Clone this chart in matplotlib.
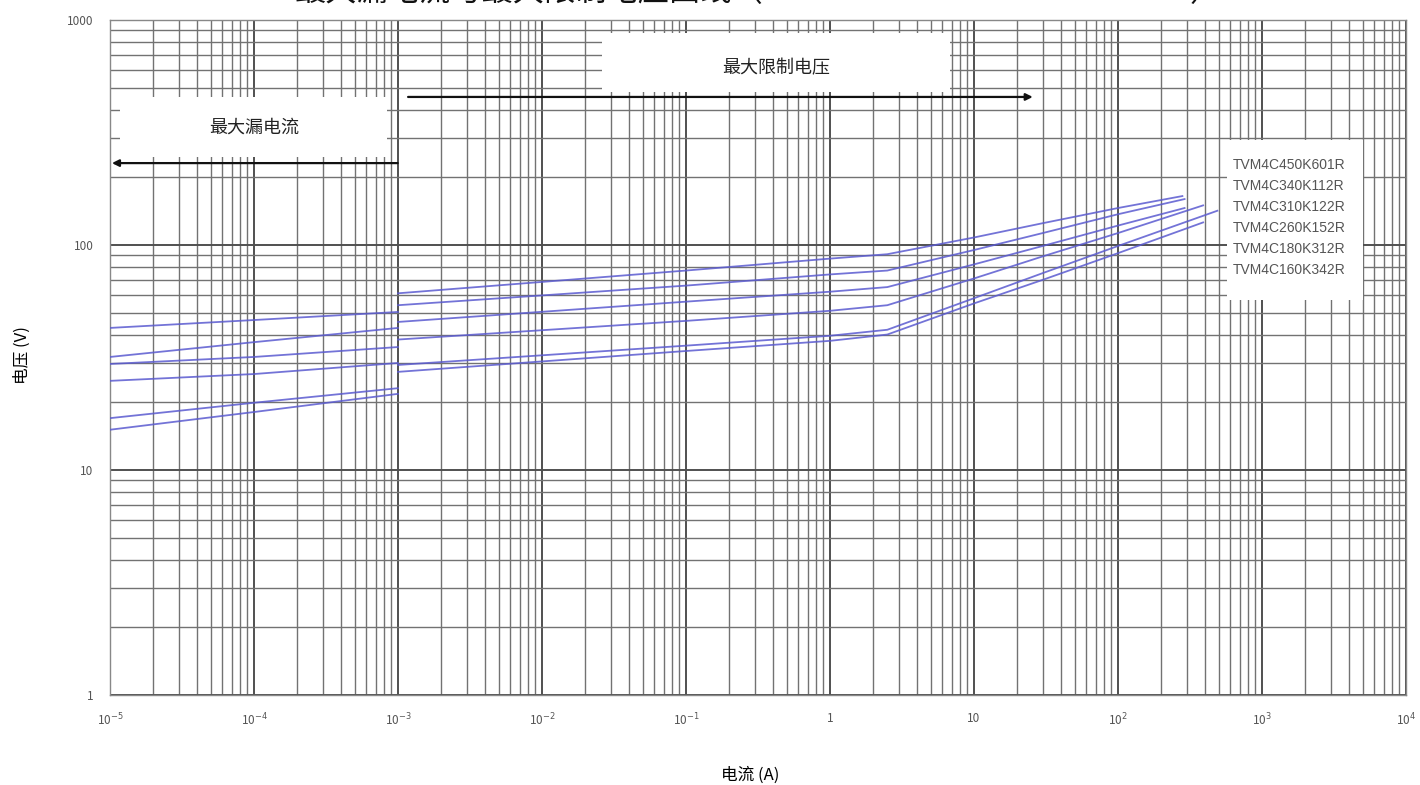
import numpy as np
import matplotlib
matplotlib.use('Agg')
import matplotlib.pyplot as plt
from matplotlib.lines import Line2D
from matplotlib.patches import Rectangle
from matplotlib.ticker import LogLocator, NullFormatter

plt.rcParams['font.family'] = ['Noto Sans CJK SC', 'DejaVu Sans']

# series names (legend order)
models = ['TVM4C450K601R', 'TVM4C340K112R', 'TVM4C310K122R',
          'TVM4C260K152R', 'TVM4C180K312R', 'TVM4C160K342R']

# leakage region, 1e-5 .. 1e-3 A
leak_current = [1e-5, 1e-4, 1e-3]
leak_450 = [42.8, 46.4, 50.4]
leak_340 = [31.8, 37.0, 42.8]
leak_310 = [29.6, 31.8, 35.2]
leak_260 = [24.9, 26.7, 29.9]
leak_180 = [17.0, 19.9, 23.1]
leak_160 = [15.1, 18.1, 21.8]

# clamping region, 1e-3 A upwards
clamp_450_i = [1e-3, 1e-1, 1, 2.5, 10, 30, 100, 280]
clamp_450_v = [61, 77, 87, 91, 108, 125, 146, 165]
clamp_340_i = [1e-3, 1e-1, 1, 2.5, 10, 30, 100, 290]
clamp_340_v = [54, 66, 74, 77, 95, 113, 137, 160]
clamp_310_i = [1e-3, 1e-1, 1, 2.5, 10, 30, 100, 290]
clamp_310_v = [45.5, 56, 62, 65, 82, 99, 122, 146]
clamp_260_i = [1e-3, 1e-1, 1, 2.5, 10, 30, 100, 390]
clamp_260_v = [38, 46, 51, 54, 71, 89, 113, 150]
clamp_180_i = [1e-3, 1e-1, 1, 2.5, 10, 30, 100, 490]
clamp_180_v = [29.3, 35.7, 39.5, 42, 58, 75, 99, 142]
clamp_160_i = [1e-3, 1e-1, 1, 2.5, 10, 30, 100, 390]
clamp_160_v = [27.3, 33.8, 37.5, 40, 55, 70, 92, 126]

x_ticks = [1e-5, 1e-4, 1e-3, 1e-2, 1e-1, 1, 10, 1e2, 1e3, 1e4]
x_ticklabels = ['10$^{-5}$', '10$^{-4}$', '10$^{-3}$', '10$^{-2}$', '10$^{-1}$',
                '1', '10', '10$^{2}$', '10$^{3}$', '10$^{4}$']
y_ticks = [1, 10, 100, 1000]
y_ticklabels = ['1', '10', '100', '1000']

leaks = [leak_450, leak_340, leak_310, leak_260, leak_180, leak_160]
clamps = [(clamp_450_i, clamp_450_v), (clamp_340_i, clamp_340_v),
          (clamp_310_i, clamp_310_v), (clamp_260_i, clamp_260_v),
          (clamp_180_i, clamp_180_v), (clamp_160_i, clamp_160_v)]

fig = plt.figure(figsize=(14.2, 7.85), dpi=100)
ax = fig.add_axes([110 / 1420, 1 - 695 / 785, 1296 / 1420, 675 / 785])
ax.set_xscale('log')
ax.set_yscale('log')
ax.set_xlim(1e-5, 1e4)
ax.set_ylim(1, 1000)

# minor ticks on every 2..9 so the log-paper grid is complete
ax.xaxis.set_minor_locator(LogLocator(base=10, subs=np.arange(2, 10), numticks=100))
ax.yaxis.set_minor_locator(LogLocator(base=10, subs=np.arange(2, 10), numticks=100))
ax.xaxis.set_minor_formatter(NullFormatter())
ax.yaxis.set_minor_formatter(NullFormatter())

# dense grid like printed log paper
ax.grid(True, which='major', color='#505050', lw=1.4)
ax.grid(True, which='minor', color='#727272', lw=1.0)
ax.set_axisbelow(True)
for s in ax.spines.values():
    s.set_color('#888888')
    s.set_linewidth(1.0)

curve_color = '#5b5bd0'
for leak, (ci, cv) in zip(leaks, clamps):
    ax.plot(leak_current, leak, color=curve_color, lw=1.3, alpha=0.85, zorder=3)
    ax.plot(ci, cv, color=curve_color, lw=1.3, alpha=0.85, zorder=3)

ax.set_xticks(x_ticks)
ax.set_xticklabels(x_ticklabels)
ax.set_yticks(y_ticks)
ax.set_yticklabels(y_ticklabels)
ax.tick_params(which='both', length=0)
ax.tick_params(axis='x', pad=12, labelsize=8.5, labelcolor='#555555')
ax.tick_params(axis='y', pad=12, labelsize=8.5, labelcolor='#555555')

# white label boxes over the grid
ax.add_patch(Rectangle((0.008, 0.797), 0.206, 0.089, transform=ax.transAxes,
                       facecolor='white', edgecolor='none', zorder=4))
ax.text(0.111, 0.841, '最大漏电流', transform=ax.transAxes, ha='center', va='center',
        fontsize=13, color='#222222', zorder=5)
ax.add_patch(Rectangle((0.380, 0.893), 0.268, 0.088, transform=ax.transAxes,
                       facecolor='white', edgecolor='none', zorder=4))
ax.text(0.514, 0.929, '最大限制电压', transform=ax.transAxes, ha='center', va='center',
        fontsize=13, color='#222222', zorder=5)

# arrows
ax.annotate('', xy=(0.0015, 0.788), xytext=(0.222, 0.788), xycoords='axes fraction',
            arrowprops=dict(arrowstyle='-|>', color='#111111', lw=1.6,
                            mutation_scale=10, shrinkA=0, shrinkB=0), zorder=6)
ax.annotate('', xy=(0.712, 0.886), xytext=(0.230, 0.886), xycoords='axes fraction',
            arrowprops=dict(arrowstyle='-|>', color='#111111', lw=1.6,
                            mutation_scale=10, shrinkA=0, shrinkB=0), zorder=6)

# legend: white panel plus labels without line handles
ax.add_patch(Rectangle((0.862, 0.585), 0.105, 0.237, transform=ax.transAxes,
                       facecolor='white', edgecolor='none', zorder=4))
handles = [Line2D([], [], lw=0) for _ in models]
leg = ax.legend(handles, models, loc='upper left', bbox_to_anchor=(0.866, 0.795),
                handlelength=0, handletextpad=0, frameon=False,
                borderpad=0, labelspacing=0.5, borderaxespad=0,
                prop={'family': 'Liberation Sans', 'size': 10})
for t in leg.get_texts():
    t.set_color('#555555')
leg.set_zorder(7)

# axis labels
fig.text(750 / 1420, 1 - 775 / 785, '电流 (A)', ha='center', va='center', fontsize=12)
fig.text(22 / 1420, 1 - 355 / 785, '电压 (V)', ha='center', va='center', fontsize=12,
         rotation=90)

# title, cut off at the top edge as in the source
fig.text(295 / 1420, 1 + 8 / 785, '最大漏电流与最大限制电压曲线（', ha='left', va='center',
         fontsize=22.5, color='#111111')
fig.text(1190 / 1420, 1 + 8 / 785, '）', ha='left', va='center',
         fontsize=22.5, color='#111111')

fig.savefig('out.png', dpi=100)
